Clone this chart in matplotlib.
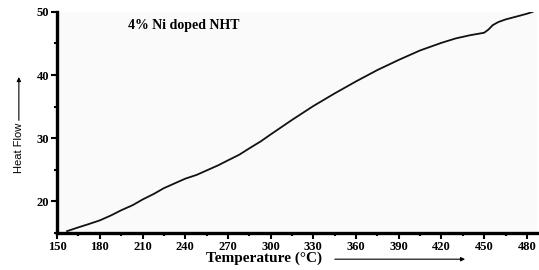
import matplotlib
matplotlib.use('Agg')
import matplotlib.pyplot as plt
import matplotlib.ticker as tick

# DSC 曲線 (読み取り値)
temp = [157, 165, 172, 180, 188, 195, 203, 210, 218, 225, 233, 240, 248, 255, 263, 270,
        278, 285, 293, 300, 315, 330, 345, 360, 375, 390, 405, 420, 430, 440, 445,
        450, 453, 456, 460, 465, 470, 475, 480, 484]
heat = [15.3, 15.9, 16.4, 17.0, 17.8, 18.6, 19.4, 20.3, 21.2, 22.1, 22.9, 23.6, 24.2, 24.9,
        25.7, 26.5, 27.4, 28.4, 29.5, 30.6, 32.9, 35.1, 37.1, 39.0, 40.8, 42.4, 43.9, 45.1,
        45.8, 46.3, 46.5, 46.7, 47.2, 47.9, 48.4, 48.8, 49.1, 49.4, 49.7, 50.0]

x_ticks = [150, 180, 210, 240, 270, 300, 330, 360, 390, 420, 450, 480]
y_ticks = [20, 30, 40, 50]

serif = ['Liberation Serif', 'DejaVu Serif']

fig = plt.figure(figsize=(5.39, 2.70), dpi=100)
ax = fig.add_axes([0.106, 0.137, 0.89, 0.819])
ax.set_facecolor('#fafafa')

ax.plot(temp, heat, color='#111111', linewidth=1.3)

ax.set_xlim(150, 487)
ax.set_ylim(15, 50)
ax.set_xticks(x_ticks)
ax.set_yticks(y_ticks)
ax.xaxis.set_minor_locator(tick.MultipleLocator(15))
ax.yaxis.set_minor_locator(tick.MultipleLocator(5))

# 軸線
for s in ['top', 'right']:
    ax.spines[s].set_visible(False)
for s in ['left', 'bottom']:
    ax.spines[s].set_linewidth(2.4)
    ax.spines[s].set_color('black')

ax.tick_params(which='major', direction='out', length=4, width=1.5, pad=1.5)
ax.tick_params(which='minor', direction='out', length=2, width=1.5)
for lab in ax.get_xticklabels() + ax.get_yticklabels():
    lab.set_fontfamily(serif)
    lab.set_fontweight('bold')
    lab.set_fontsize(9)

ax.text(200, 47.3, '4% Ni doped NHT', fontfamily=serif, fontweight='bold', fontsize=10)

# 軸ラベルと矢印
fig.text(0.49, 0.042, 'Temperature (°C)', fontfamily=serif, fontweight='bold',
         fontsize=11, ha='center', va='center')
fig.add_artist(matplotlib.patches.FancyArrowPatch((0.616, 0.04), (0.868, 0.04),
               transform=fig.transFigure, arrowstyle='-|>', mutation_scale=6,
               color='black', linewidth=0.8))
fig.text(0.035, 0.452, 'Heat Flow', fontfamily=['Liberation Sans Narrow', 'Liberation Sans', 'DejaVu Sans'],
         fontsize=8, rotation=90, ha='center', va='center')
fig.add_artist(matplotlib.patches.FancyArrowPatch((0.035, 0.544), (0.035, 0.725),
               transform=fig.transFigure, arrowstyle='-|>', mutation_scale=6,
               color='black', linewidth=0.8))

plt.savefig('out.png', dpi=100)
